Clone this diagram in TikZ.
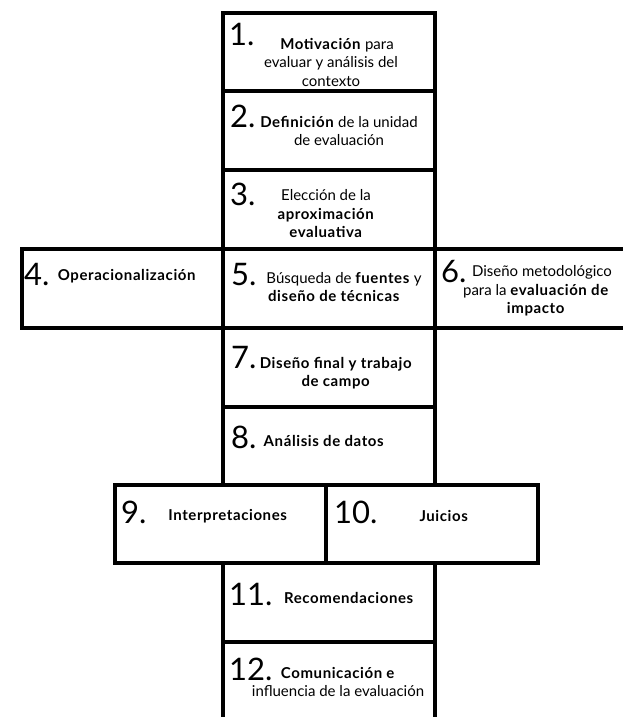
\documentclass[tikz,border=0pt]{standalone}
\usepackage{fontspec}
\setmainfont{Lato}[BoldFeatures={LetterSpace=4}]
\tikzset{
    cell/.style={draw, line width=4.5pt, minimum width=212pt, minimum height=79pt, inner sep=0pt},
    num/.style={anchor=base west, inner sep=0pt, font=\fontsize{31}{31}\selectfont},
    txt/.style={align=center, inner sep=0pt, font=\fontsize{15}{18.5}\selectfont}
}
\begin{document}
\begin{tikzpicture}[x=1pt, y=-1pt]
    \useasboundingbox (0,0) rectangle (623,717);
    \clip (0,0) rectangle (623,717);
    % Central column
    \node[cell, minimum height=78pt] (b1) at (328.75,52) {};
    \node[cell] (b2) at (328.75,130.5) {};
    \node[cell] (b3) at (328.75,209.5) {};
    % Wide row
    \node[cell, minimum width=201pt] (b4) at (122.5,288.5) {};
    \node[cell] (b5) at (329,288.5) {};
    \node[cell, minimum width=205pt] (b6) at (537.5,288.5) {};
    \node[cell] (b7) at (328.75,367.5) {};
    \node[cell, minimum height=78pt] (b8) at (328.75,446) {};
    % Shifted row
    \node[cell, minimum width=211pt, minimum height=78pt] (b9) at (220.5,524) {};
    \node[cell, minimum height=78pt] (b10) at (432,524) {};
    \node[cell] (b11) at (328.75,602.5) {};
    \node[cell] (b12) at (328.75,681.5) {};
    % Numbers
    \node[num] (n1) at (229,46) {1.};
    \node[num] (n2) at (230,127) {2.};
    \node[num] (n3) at (230,205) {3.};
    \node[num] (n4) at (24,285) {4.};
    \node[num] (n5) at (231,285) {5.};
    \node[num] (n6) at (441,282) {6.};
    \node[num] (n7) at (231,368) {7.};
    \node[num] (n8) at (231,448) {8.};
    \node[num] (n9) at (121,523) {9.};
    \node[num] (n10) at (334,523) {10.};
    \node[num] (n11) at (229,605) {11.};
    \node[num] (n12) at (229,680) {12.};
    % Texts
    \node[txt] (t1) at (331,62) {\hspace*{12pt}\textbf{Motivación} para\\evaluar y análisis del\\contexto};
    \node[txt] (t2) at (339,131) {\textbf{Definición} de la unidad\\de evaluación};
    \node[txt] (t3) at (326,214) {Elección de la\\\textbf{aproximación}\\\textbf{evaluativa}};
    \node[txt] (t4) at (127,276) {\textbf{Operacionalización}};
    \node[txt] (t5) at (334,287) {\hspace*{20pt}Búsqueda de \textbf{fuentes} y\\\textbf{diseño de técnicas}};
    \node[txt] (t6) at (536,291) {\hspace*{12pt}Diseño metodológico\\para la \textbf{evaluación de}\\\textbf{impacto}};
    \node[txt] (t7) at (336,373) {\textbf{Diseño final y trabajo}\\\textbf{de campo}};
    \node[txt] (t8) at (324,441) {\textbf{Análisis de datos}};
    \node[txt] (t9) at (228,516) {\textbf{Interpretaciones}};
    \node[txt] (t10) at (444,516) {\textbf{Juicios}};
    \node[txt] (t11) at (349,598) {\textbf{Recomendaciones}};
    \node[txt] (t12) at (338,682) {\textbf{Comunicación e}\\influencia de la evaluación};
\end{tikzpicture}
\end{document}
